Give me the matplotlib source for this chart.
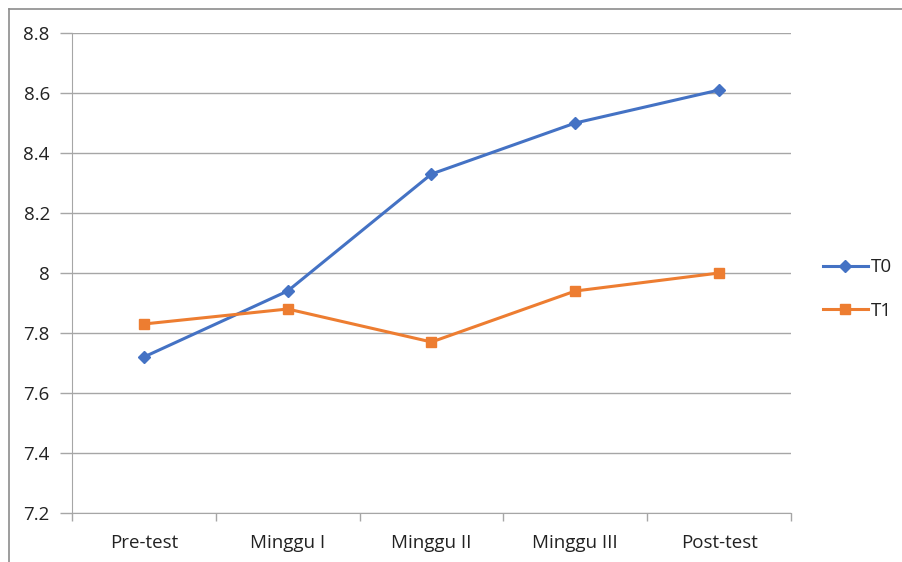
import matplotlib
matplotlib.use("Agg")
import matplotlib.pyplot as plt
from matplotlib.lines import Line2D

categories = ["Pre-test", "Minggu I", "Minggu II", "Minggu III", "Post-test"]
t0 = [7.72, 7.94, 8.33, 8.50, 8.61]
t1 = [7.83, 7.88, 7.77, 7.94, 8.00]
yticks = [7.2, 7.4, 7.6, 7.8, 8.0, 8.2, 8.4, 8.6, 8.8]
ytick_labels = ["7.2", "7.4", "7.6", "7.8", "8", "8.2", "8.4", "8.6", "8.8"]

plt.rcParams['font.family'] = ['Open Sans', 'DejaVu Sans']

W, H = 903, 562
fig = plt.figure(figsize=(W / 100, H / 100), dpi=100)
left, right, top, bottom = 72, 791, 33, 513
ax = fig.add_axes([left / W, 1 - bottom / H, (right - left) / W, (bottom - top) / H])

x = list(range(len(categories)))
ax.plot(x, t0, color="#4472C4", lw=2.2, marker="D", ms=6, label="T0", zorder=3)
ax.plot(x, t1, color="#ED7D31", lw=2.2, marker="s", ms=7.5, label="T1", zorder=3)

ax.set_xlim(-0.5, len(categories) - 0.5)
ax.set_ylim(7.2, 8.8)
ax.set_yticks(yticks)
ax.set_yticklabels(ytick_labels)
ax.set_xticks(x)
ax.set_xticklabels(categories)
ax.set_xticks([i - 0.5 for i in range(len(categories) + 1)], minor=True)

fs = 13.5
grid_c = "#a6a6a6"
ax.grid(axis="y", color=grid_c, lw=1.0, zorder=0)
for s in ["top", "right"]:
    ax.spines[s].set_visible(False)
ax.spines["left"].set_color(grid_c)
ax.spines["bottom"].set_color(grid_c)
ax.tick_params(axis="y", length=9, width=1.0, color=grid_c, labelsize=fs, pad=7, labelcolor="#222222")
ax.tick_params(axis="x", which="major", length=0, labelsize=fs, pad=15, labelcolor="#222222")
ax.tick_params(axis="x", which="minor", length=6, width=1.0, color=grid_c)

leg = fig.legend(handles=[Line2D([], [], color="#4472C4", lw=2.2, marker="D", ms=6),
                          Line2D([], [], color="#ED7D31", lw=2.2, marker="s", ms=7.5)],
                 labels=["T0", "T1"], loc="center left",
                 bbox_to_anchor=(823 / W, 1 - 289 / H), frameon=False, borderpad=0,
                 borderaxespad=0, fontsize=fs, handlelength=2.4, handletextpad=0.15,
                 labelspacing=1.35, labelcolor="#222222")

# outer border (top and left visible)
fig.add_artist(Line2D([9 / W, 1], [1 - 9 / H, 1 - 9 / H], transform=fig.transFigure, color="#8c8c8c", lw=1.2))
fig.add_artist(Line2D([9 / W, 9 / W], [0, 1 - 9 / H], transform=fig.transFigure, color="#8c8c8c", lw=1.2))

fig.savefig("out.png", dpi=100)
